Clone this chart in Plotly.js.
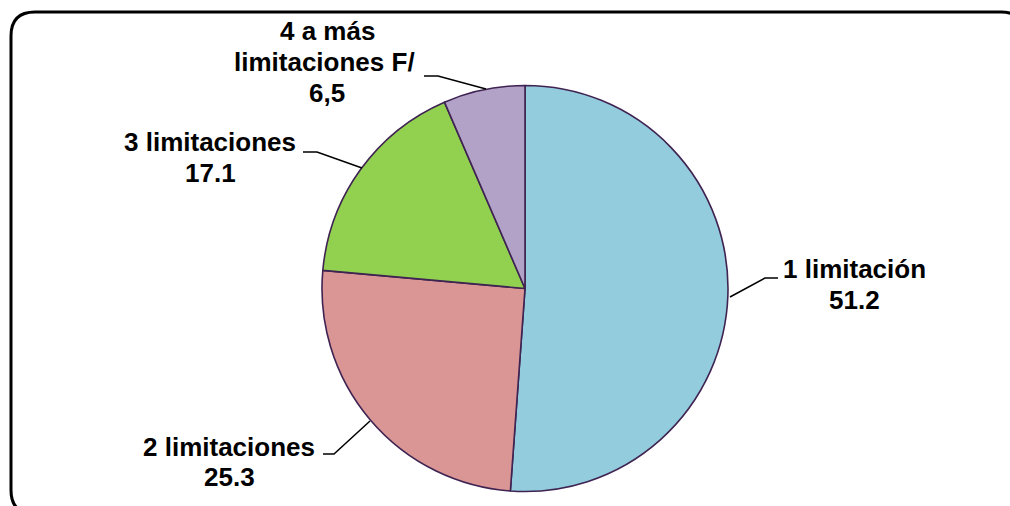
<!DOCTYPE html>
<html>
<head>
<meta charset="utf-8">
<script src="https://cdn.plot.ly/plotly-3.0.1.min.js"></script>
<style>html,body{margin:0;padding:0;background:#fff;}#chart{width:1010px;height:506px;}</style>
</head>
<body>
<div id="chart"></div>
<script>
const categories = ["1 limitación", "2 limitaciones", "3 limitaciones", "4 a más limitaciones F/"];
const values = [51.2, 25.3, 17.1, 6.5];
const valueLabels = ["51.2", "25.3", "17.1", "6,5"];
const colors = ["#93CDDD", "#D99694", "#92D050", "#B3A2C7"];

const W = 1010, H = 506;
const px = x => x / W;
const py = y => 1 - y / H;
function pathPx(cmds) {
  return cmds.map(c => {
    const l = c[0];
    const pts = [];
    for (let i = 1; i < c.length; i += 2) pts.push(px(c[i]).toFixed(5) + "," + py(c[i + 1]).toFixed(5));
    return l + " " + pts.join(" ");
  }).join(" ");
}

const font = {family: "Liberation Sans, Arial, sans-serif", size: 26, color: "#000000"};
function ann(text, x, y) {
  return {text: "<b>" + text + "</b>", x: px(x), y: py(y), xref: "paper", yref: "paper",
    showarrow: false, xanchor: "center", yanchor: "middle", font: font};
}

const annotations = [
  ann(categories[0], 854, 269), ann(valueLabels[0], 854, 300),
  ann(categories[1], 229, 447), ann(valueLabels[1], 229, 477),
  ann(categories[2], 210, 142), ann(valueLabels[2], 210, 173),
  ann("4 a más", 327, 31), ann("limitaciones F/", 324, 62), ann(valueLabels[3], 327, 93)
];

const lineStyle = {color: "#000000", width: 1.5};
const frame = {color: "#000000", width: 3};
const r = 24, L = 11, T = 12, R = 1025, B = 514;
const shapes = [
  {type: "path", xref: "paper", yref: "paper", line: lineStyle,
   path: pathPx([["M", 730, 297], ["L", 765, 278], ["L", 778, 278]])},
  {type: "path", xref: "paper", yref: "paper", line: lineStyle,
   path: pathPx([["M", 323, 454], ["L", 334, 454], ["L", 370, 421]])},
  {type: "path", xref: "paper", yref: "paper", line: lineStyle,
   path: pathPx([["M", 303, 152], ["L", 317, 152], ["L", 362, 168]])},
  {type: "path", xref: "paper", yref: "paper", line: lineStyle,
   path: pathPx([["M", 424, 76], ["L", 438, 76], ["L", 486, 89]])},
  {type: "path", xref: "paper", yref: "paper", line: frame,
   path: pathPx([["M", L, T + r], ["Q", L, T, L + r, T], ["L", R - r, T], ["Q", R, T, R, T + r],
                 ["L", R, B - r], ["Q", R, B, R - r, B], ["L", L + r, B], ["Q", L, B, L, B - r], ["Z"]])}
];

const trace = {
  type: "pie",
  labels: categories,
  values: values,
  sort: false,
  direction: "clockwise",
  rotation: 0,
  textinfo: "none",
  hoverinfo: "none",
  marker: {colors: colors, line: {color: "#3F2352", width: 1.6}},
  domain: {x: [px(322), px(728)], y: [py(492), py(85)]}
};

const layout = {
  width: W, height: H,
  margin: {l: 0, r: 0, t: 0, b: 0},
  showlegend: false,
  paper_bgcolor: "#ffffff",
  annotations: annotations,
  shapes: shapes
};

Plotly.newPlot("chart", [trace], layout, {displayModeBar: false, staticPlot: true});
</script>
</body>
</html>
